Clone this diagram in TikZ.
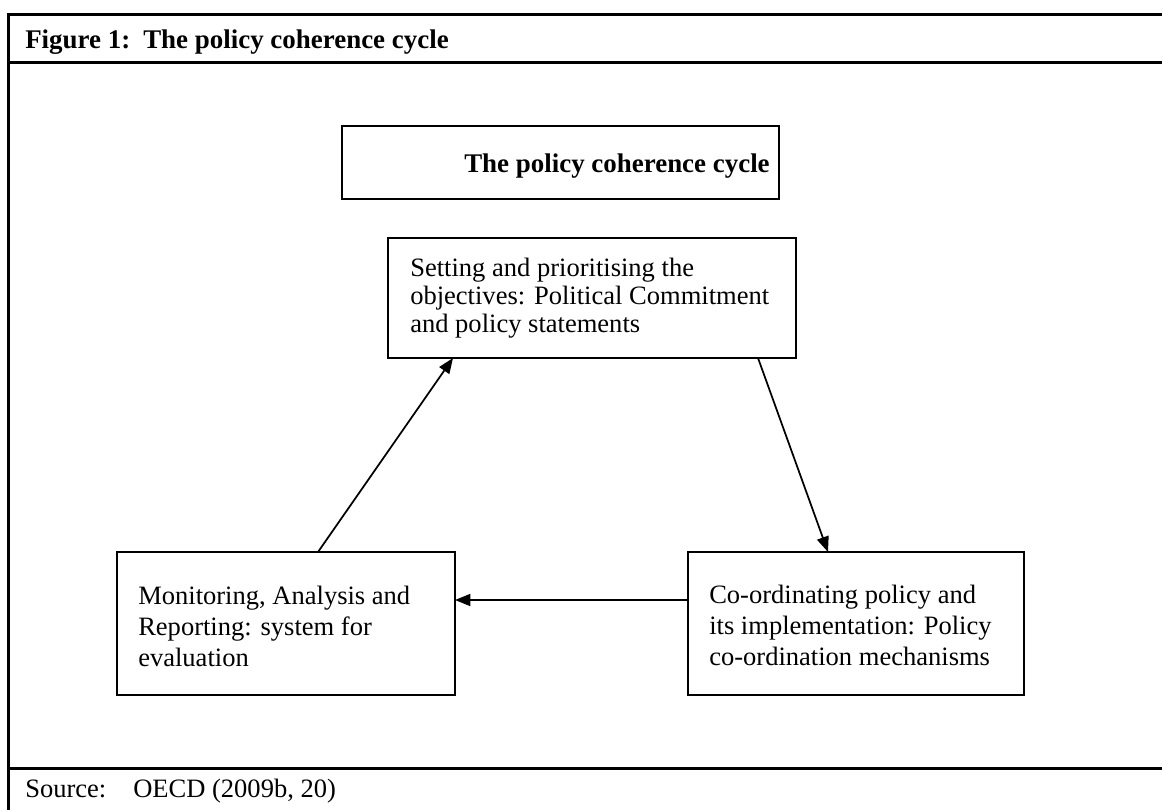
\documentclass[tikz,border=0pt]{standalone}
\usepackage{fontspec}
\setmainfont{Liberation Serif}
\usetikzlibrary{arrows.meta,calc}
\begin{document}
\begin{tikzpicture}[x=0.75pt,y=-0.75pt,
  frameline/.style={line width=2.25pt},
  box/.style={draw, line width=1.5pt, rectangle, inner sep=0pt, outer sep=0pt, anchor=north west},
  toplabel/.style={inner sep=0pt, anchor=base west, font=\fontsize{19.9pt}{21pt}\selectfont},
  botlabel/.style={inner sep=0pt, anchor=base west, font=\fontsize{19.9pt}{23.25pt}\selectfont},
  boldlabel/.style={inner sep=0pt, anchor=base west, font=\fontsize{20.2pt}{24pt}\selectfont\bfseries},
  srclabel/.style={inner sep=0pt, anchor=base west, font=\fontsize{19.9pt}{22pt}\selectfont},
  conn/.style={line width=1.3pt, -{Triangle[length=11.5pt,width=9pt]}}
]
\useasboundingbox (0,0) rectangle (1162,810);
% outer frame
\draw[frameline] (1162,14) -- (8.5,14) -- (8.5,810);
\draw[frameline] (8.5,62) -- (1162,62);
\draw[frameline] (8.5,768) -- (1162,768);
% header and source
\node[boldlabel] (head) at (25,48) {\makebox[88.5pt][l]{Figure 1:}The policy coherence cycle};
\node[srclabel] (src) at (25,797) {\makebox[81pt][l]{Source:}OECD (2009b, 20)};
% title box
\node[box, minimum width=327.75pt, minimum height=54.75pt] (titlebox) at (342,126) {};
\node[boldlabel] (titletext) at (464,172) {The policy coherence cycle};
% boxes
\node[box, minimum width=306pt, minimum height=90pt] (obj) at (388,238) {};
\node[toplabel] (objtext) at (410,276) {\begin{tabular}[t]{@{}l@{}}Setting and prioritising the\\objectives: Political Commitment\\and policy statements\end{tabular}};
\node[box, minimum width=253.5pt, minimum height=107.25pt] (mon) at (117,552) {};
\node[botlabel] (montext) at (138,604) {\begin{tabular}[t]{@{}l@{}}Monitoring, Analysis and\\Reporting: system for\\evaluation\end{tabular}};
\node[box, minimum width=252pt, minimum height=107.25pt] (coord) at (688,552) {};
\node[botlabel] (coordtext) at (709,603) {\begin{tabular}[t]{@{}l@{}}Co-ordinating policy and\\its implementation: Policy\\co-ordination mechanisms\end{tabular}};
% connectors
\draw[conn] ($(mon.north west)+(201,0)$) -- ($(obj.south west)+(65,0)$);
\draw[conn] ($(obj.south west)+(370,0)$) -- ($(coord.north west)+(140,0)$);
\draw[conn] ($(coord.north west)+(0,48)$) -- ($(mon.north east)+(0,48)$);
\end{tikzpicture}
\end{document}
